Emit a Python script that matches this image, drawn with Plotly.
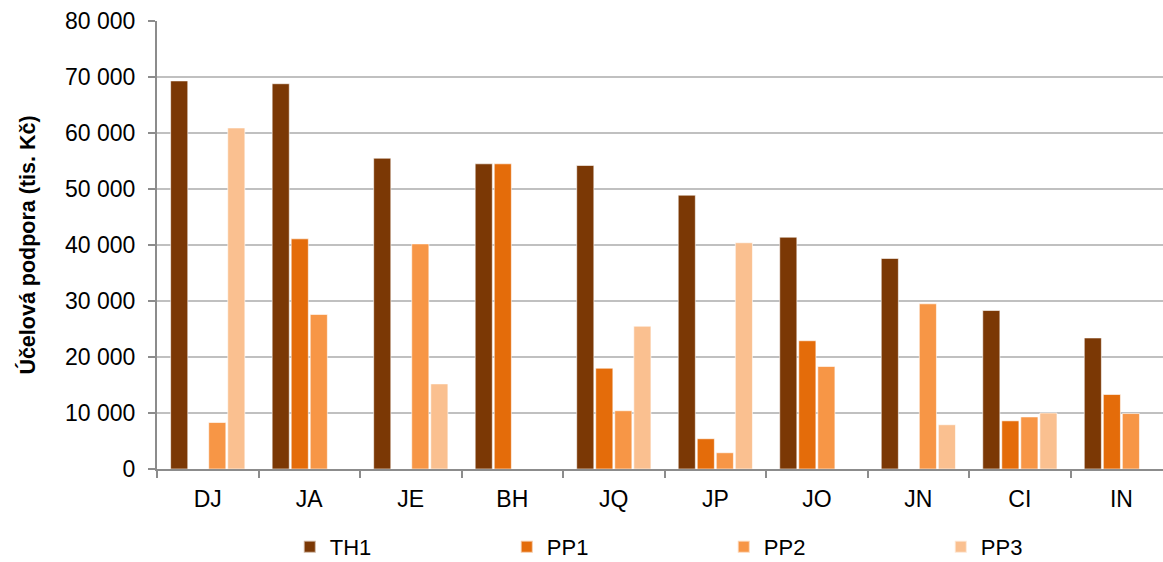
import plotly.graph_objects as go

# Categories and series values (tis. Kč)
categories = ["DJ", "JA", "JE", "BH", "JQ", "JP", "JO", "JN", "CI", "IN"]
th1 = [69300, 68800, 55500, 54500, 54200, 48900, 41400, 37600, 28300, 23400]
pp1 = [None, 41100, None, 54500, 18000, 5400, 22900, None, 8600, 13300]
pp2 = [8300, 27600, 40200, None, 10400, 2900, 18300, 29500, 9300, 9900]
pp3 = [60900, None, 15200, None, 25500, 40400, None, 7900, 10000, None]

series_names = ["TH1", "PP1", "PP2", "PP3"]
series_values = [th1, pp1, pp2, pp3]
series_colors = ["#7B3805", "#E46C0A", "#F79646", "#FAC090"]

y_tick_vals = [0, 10000, 20000, 30000, 40000, 50000, 60000, 70000, 80000]
y_tick_text = ["0", "10 000", "20 000", "30 000", "40 000", "50 000",
               "60 000", "70 000", "80 000"]

fig = go.Figure()
for name, vals, col in zip(series_names, series_values, series_colors):
    fig.add_trace(go.Bar(
        x=categories, y=vals, name=name,
        marker=dict(color=col, line=dict(color="rgba(255,255,255,0.6)", width=1)),
    ))

font_family = "Liberation Sans, Arial, sans-serif"

fig.update_layout(
    width=1163, height=562,
    margin=dict(l=157, r=0, t=21, b=93, autoexpand=False),
    paper_bgcolor="white", plot_bgcolor="white",
    barmode="group", bargap=0.25, bargroupgap=0.1,
    font=dict(family=font_family, size=23, color="#000000"),
    showlegend=True,
    legend=dict(
        orientation="h", x=0.132, y=0.064, xref="paper", yref="container",
        xanchor="left", yanchor="top",
        entrywidth=172, entrywidthmode="pixels",
        font=dict(size=22), itemsizing="constant", itemwidth=30,
    ),
    xaxis=dict(
        type="category", range=[-0.5, 9.41],
        showline=True, linecolor="#8C8C8C", linewidth=2,
        ticks="outside", tickson="boundaries", ticklen=7,
        tickcolor="#8C8C8C", tickwidth=2, ticklabelstandoff=8,
        showgrid=False, tickfont=dict(size=23),
    ),
    yaxis=dict(
        range=[0, 80000], tickvals=y_tick_vals, ticktext=y_tick_text,
        showline=True, linecolor="#8C8C8C", linewidth=2,
        ticks="outside", ticklen=7, tickcolor="#8C8C8C", tickwidth=2,
        ticklabelstandoff=8,
        showgrid=True, gridcolor="#C0C0C0", gridwidth=2,
        zeroline=False, tickfont=dict(size=23),
        title=dict(text="<b>Účelová podpora (tis. Kč)</b>",
                   font=dict(size=21.5), standoff=24),
    ),
)

fig.write_html("out.html")
